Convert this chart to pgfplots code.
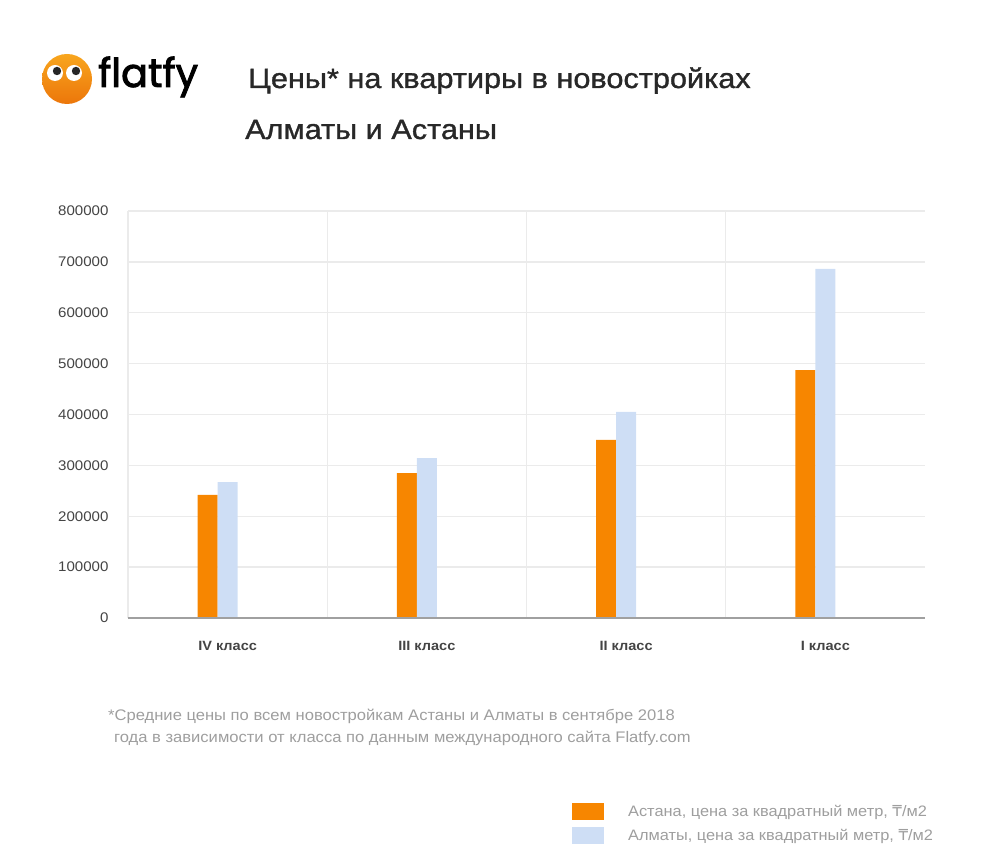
\documentclass[border=0pt]{standalone}
\usepackage{pgfplots}
\pgfplotsset{compat=1.18}
\usepackage{fontspec}
\setmainfont{Liberation Sans}[FakeStretch=1.08]
\newfontfamily\titlefont{Liberation Sans}[FakeStretch=1.1, FakeBold=1.2]
\newfontfamily\logofont{Poppins}[FakeBold=2.2]
\newfontfamily\dejavu{DejaVu Sans}
\newcommand{\tenge}{{\dejavu ₸}}
\definecolor{orangebar}{RGB}{247,134,0}
\definecolor{bluebar}{RGB}{206,222,245}
\definecolor{gridc}{RGB}{235,235,235}
\definecolor{zeroc}{RGB}{160,160,160}
\definecolor{txt}{RGB}{68,68,68}
\definecolor{titlec}{RGB}{40,40,40}
\definecolor{foot}{RGB}{158,158,158}
\definecolor{logotop}{RGB}{248,166,30}
\definecolor{logobot}{RGB}{236,118,10}
\begin{document}
\begin{tikzpicture}[x=1bp,y=1bp]
\path[use as bounding box] (0,0) rectangle (993,851);
% logo
\shade[top color=logotop, bottom color=logobot] (67,772) circle (25);
\fill[white] (55,778) circle (8);
\fill[white] (74,778) circle (8);
\fill[black!85] (57,780) circle (4.2);
\fill[black!85] (76,780) circle (4.2);
\node[anchor=base west, inner sep=0, font=\logofont\fontsize{40}{40}\selectfont] at (98,764) {flatfy};
% title
\node[anchor=base west, inner sep=0, text=titlec, font=\titlefont\fontsize{28}{28}\selectfont] at (248,763) {Цены* на квартиры в новостройках};
\node[anchor=base west, inner sep=0, text=titlec, font=\titlefont\fontsize{28}{28}\selectfont] at (245,712) {Алматы и Астаны};
% footnote
\node[anchor=base west, inner sep=0, text=foot, font=\fontsize{15.4}{15.4}\selectfont] at (108,130) {*Средние цены по всем новостройкам Астаны и Алматы в сентябре 2018};
\node[anchor=base west, inner sep=0, text=foot, font=\fontsize{15.4}{15.4}\selectfont] at (114,108) {года в зависимости от класса по данным международного сайта Flatfy.com};
\begin{axis}[
  at={(128bp,233bp)}, anchor=south west,
  scale only axis, width=797bp, height=407bp,
  xmin=-0.5, xmax=3.5, ymin=0, ymax=800000,
  axis line style={draw=none},
  major tick length=0pt, minor tick length=0pt,
  xtick={0,1,2,3},
  xticklabels={IV класс, III класс, II класс, I класс},
  minor xtick={-0.5,0.5,1.5,2.5},
  xminorgrids=true,
  ytick={0,100000,...,800000},
  yticklabels={0,100000,200000,300000,400000,500000,600000,700000,800000},
  scaled y ticks=false,
  ymajorgrids=true,
  grid style={gridc, line width=1.3bp},
  minor grid style={gridc, line width=1.3bp},
  xticklabel style={font=\bfseries\fontsize{13.5}{13.5}\selectfont, text=txt, yshift=-20bp},
  yticklabel style={font=\fontsize{14}{14}\selectfont, text=txt, xshift=-16bp},
  legend style={at={(0.557,-0.4545)}, anchor=north west, draw=none, fill=none,
    font=\fontsize{15.2}{15.2}\selectfont, text=foot, row sep=7bp, inner sep=0pt,
    cells={anchor=west}},
  legend cell align=left,
  clip=false,
]
\addplot[ybar, bar width=20bp, bar shift=-20bp, fill=orangebar, draw=none,
  legend image code/.code={\fill[orangebar] (0bp,-8.5bp) rectangle (32bp,8.5bp);}]
  coordinates {(0,242000) (1,285000) (2,350000) (3,487000)};
\addlegendentry{\hspace{22bp}Астана, цена за квадратный метр, \tenge/м2}
\addplot[ybar, bar width=20bp, bar shift=0bp, fill=bluebar, draw=none,
  legend image code/.code={\fill[bluebar] (0bp,-8.5bp) rectangle (32bp,8.5bp);}]
  coordinates {(0,267000) (1,314000) (2,405000) (3,686000)};
\addlegendentry{\hspace{22bp}Алматы, цена за квадратный метр, \tenge/м2}
\draw[zeroc, line width=1.3bp] (axis cs:-0.5,0) -- (axis cs:3.5,0);
\end{axis}
\end{tikzpicture}
\end{document}
